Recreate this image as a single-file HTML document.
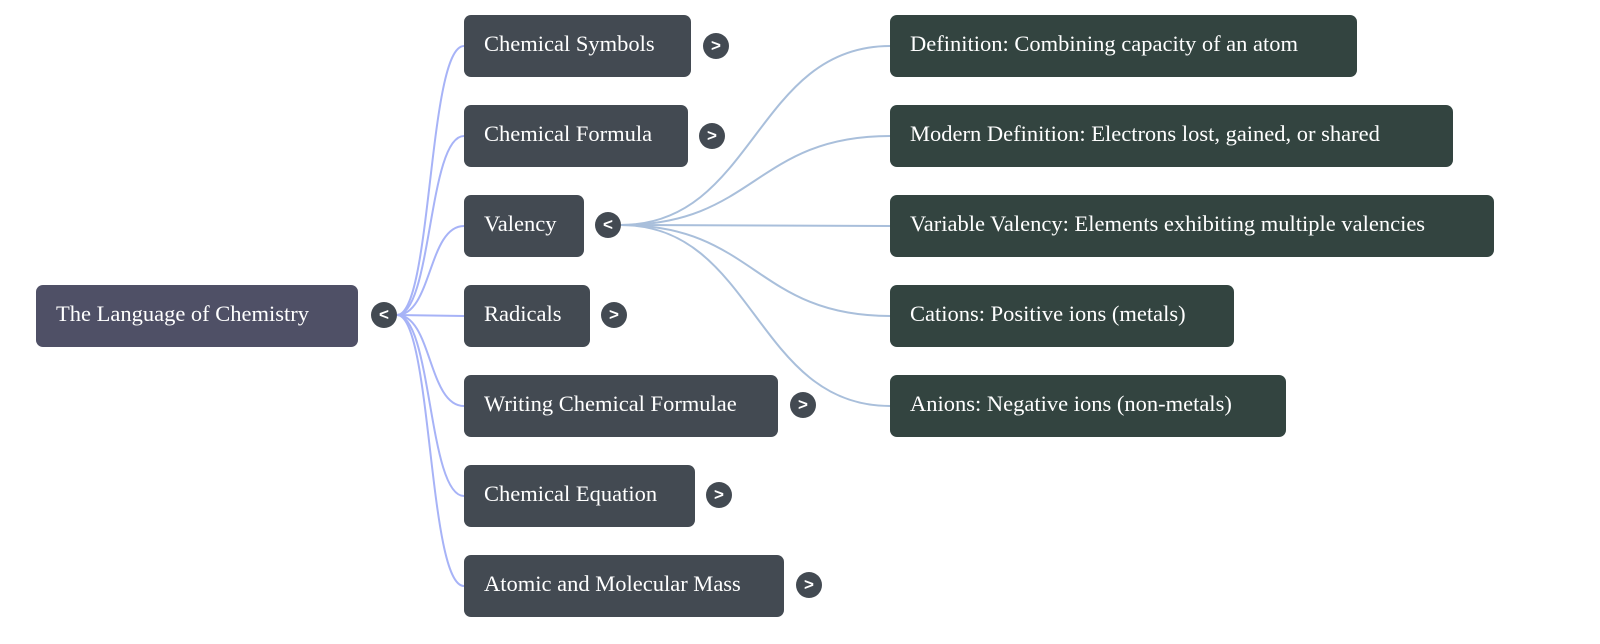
<!DOCTYPE html>
<html><head><style>
body{margin:0;width:1600px;height:644px;background:#fff;position:relative;overflow:hidden;font-family:"Liberation Serif",serif;}
.n{position:absolute;height:62px;border-radius:7px;color:#fff;font-size:22.5px;line-height:58px;padding-left:20px;box-sizing:border-box;white-space:nowrap;}
.r{background:#4f5066}.m{background:#434a52}.l{background:#334440}
.c{position:absolute;width:26px;height:26px;border-radius:50%;background:#434a52;color:#fff;font-family:"Liberation Sans",sans-serif;font-weight:bold;font-size:17px;line-height:25px;text-align:center;}
svg{position:absolute;left:0;top:0}
</style></head><body>
<svg width="1600" height="644" fill="none" stroke-width="2">
<g stroke="#a7b3f7">
<path d="M397,315 C432,315 428,46 464,46"/>
<path d="M397,315 C432,315 428,136 464,136"/>
<path d="M397,315 C432,315 428,226 464,226"/>
<path d="M397,315 L464,316"/>
<path d="M397,315 C432,315 428,406 464,406"/>
<path d="M397,315 C432,315 428,496 464,496"/>
<path d="M397,315 C432,315 428,586 464,586"/>
</g>
<g stroke="#a9bfdb">
<path d="M621,225 C755,225 755,46 890,46"/>
<path d="M621,225 C755,225 755,136 890,136"/>
<path d="M621,225 L890,226"/>
<path d="M621,225 C755,225 755,316 890,316"/>
<path d="M621,225 C755,225 755,406 890,406"/>
</g>
</svg>
<div class="n r" style="left:36px;top:285px;width:322px">The Language of Chemistry</div>
<div class="c" style="left:371px;top:302px">&lt;</div>
<div class="n m" style="left:464px;top:15px;width:227px">Chemical Symbols</div><div class="c" style="left:703px;top:33px">&gt;</div>
<div class="n m" style="left:464px;top:105px;width:224px">Chemical Formula</div><div class="c" style="left:699px;top:123px">&gt;</div>
<div class="n m" style="left:464px;top:195px;width:120px">Valency</div><div class="c" style="left:595px;top:212px">&lt;</div>
<div class="n m" style="left:464px;top:285px;width:126px">Radicals</div><div class="c" style="left:601px;top:302px">&gt;</div>
<div class="n m" style="left:464px;top:375px;width:314px">Writing Chemical Formulae</div><div class="c" style="left:790px;top:392px">&gt;</div>
<div class="n m" style="left:464px;top:465px;width:231px">Chemical Equation</div><div class="c" style="left:706px;top:482px">&gt;</div>
<div class="n m" style="left:464px;top:555px;width:320px">Atomic and Molecular Mass</div><div class="c" style="left:796px;top:572px">&gt;</div>
<div class="n l" style="left:890px;top:15px;width:467px">Definition: Combining capacity of an atom</div>
<div class="n l" style="left:890px;top:105px;width:563px">Modern Definition: Electrons lost, gained, or shared</div>
<div class="n l" style="left:890px;top:195px;width:604px">Variable Valency: Elements exhibiting multiple valencies</div>
<div class="n l" style="left:890px;top:285px;width:344px">Cations: Positive ions (metals)</div>
<div class="n l" style="left:890px;top:375px;width:396px">Anions: Negative ions (non-metals)</div>
</body></html>
